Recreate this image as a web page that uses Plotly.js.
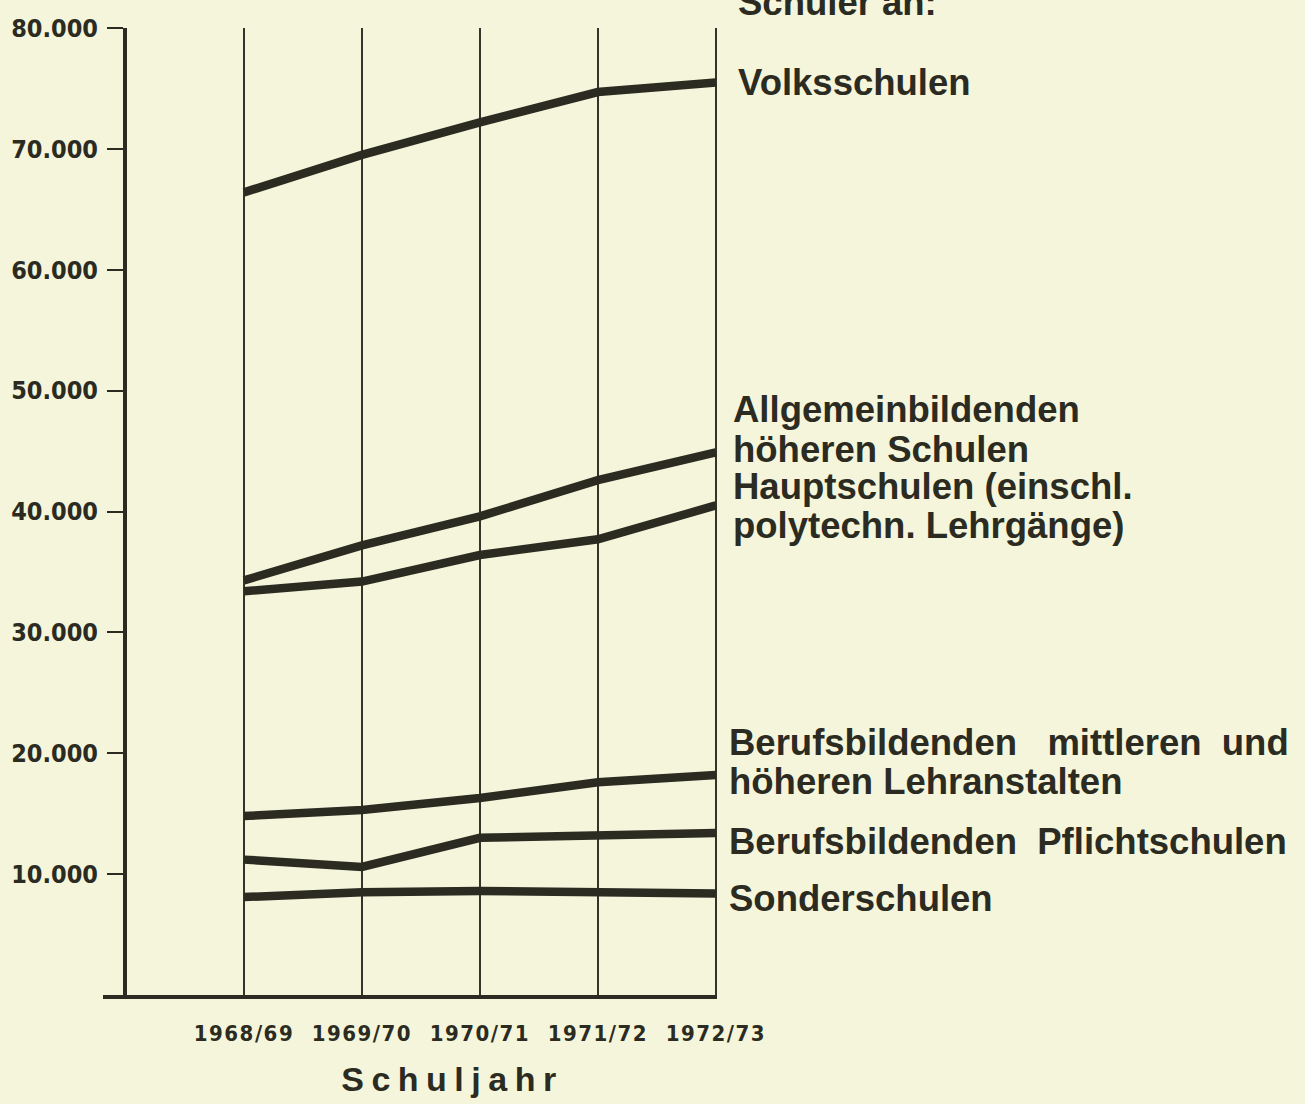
<!DOCTYPE html>
<html><head><meta charset="utf-8">
<script src="https://cdn.plot.ly/plotly-3.0.1.min.js"></script>
<style>
html,body{margin:0;padding:0;background:#f4f5da;}
#chart{width:1305px;height:1104px;}
.xtick text{letter-spacing:1.5px;}
.annotation[data-index="10"] .annotation-text{letter-spacing:7.5px;}
</style></head><body><div id="chart"></div>
<script>
// ---- data ----
const schoolYears = ["1968/69", "1969/70", "1970/71", "1971/72", "1972/73"];
const volksschulen = [66400, 69500, 72200, 74700, 75500];
const ahs = [34300, 37200, 39600, 42600, 44900];
const hauptschulen = [33400, 34200, 36400, 37700, 40500];
const bmhs = [14800, 15300, 16300, 17600, 18200];
const pflichtschulen = [11200, 10600, 13000, 13200, 13400];
const sonderschulen = [8100, 8500, 8600, 8500, 8400];
const yTickVals = [10000, 20000, 30000, 40000, 50000, 60000, 70000, 80000];
const yTickText = ["10.000", "20.000", "30.000", "40.000", "50.000", "60.000", "70.000", "80.000"];
const headerText = "Schüler an:";
const labelVolks = ["Volksschulen"];
const labelAhs = ["Allgemeinbildenden", "höheren Schulen"];
const labelHaupt = ["Hauptschulen (einschl.", "polytechn. Lehrgänge)"];
const labelBmhs = ["Berufsbildenden\u00a0\u00a0\u00a0mittleren\u00a0\u00a0und", "höheren Lehranstalten"];
const labelPflicht = ["Berufsbildenden\u00a0\u00a0Pflichtschulen"];
const labelSonder = ["Sonderschulen"];
const xTitle = "Schuljahr";

// ---- layout geometry (pixels) ----
const W = 1305, H = 1104;
const L = 103, R = 717.2, T = 27.7, B = 995;
const px = x => (x - L) / (R - L);
const py = y => (B - y) / (B - T);

const ink = '#2b2b22';
const lineStyle = {color: ink, width: 8.5};
const series = [volksschulen, ahs, hauptschulen, bmhs, pflichtschulen, sonderschulen];
const traces = series.map(v => ({
  x: schoolYears, y: v, type: 'scatter', mode: 'lines',
  line: lineStyle, hoverinfo: 'skip', showlegend: false, cliponaxis: false
}));

const labelFont = {family: 'Liberation Sans, Arial, sans-serif', size: 36.5, color: ink, weight: 'bold'};
function lab(text, xPix, yPix) {
  return {text: '<b>' + text + '</b>', xref: 'paper', yref: 'paper', x: px(xPix), y: py(yPix),
          xanchor: 'left', yanchor: 'middle', showarrow: false, font: labelFont};
}
const annotations = [
  lab(headerText, 736, 2.5),
  lab(labelVolks[0], 736, 82),
  lab(labelAhs[0], 731, 409),
  lab(labelAhs[1], 731, 449),
  lab(labelHaupt[0], 731, 486.5),
  lab(labelHaupt[1], 731, 525),
  lab(labelBmhs[0], 727, 742.5),
  lab(labelBmhs[1], 727, 781.5),
  lab(labelPflicht[0], 727, 841.5),
  lab(labelSonder[0], 727, 898),
  {text: '<b>' + xTitle + '</b>', xref: 'paper', yref: 'paper', x: px(453), y: py(1079),
   xanchor: 'center', yanchor: 'middle', showarrow: false,
   font: {family: 'Liberation Sans, Arial, sans-serif', size: 34, color: ink, weight: 'bold'}}
];

const yPos = px(125);
const condensed = 'DejaVu Sans Condensed, DejaVu Sans, sans-serif';
const layout = {
  width: W, height: H,
  margin: {l: L, r: W - R, t: T, b: H - B, pad: 0},
  paper_bgcolor: '#f4f5da', plot_bgcolor: '#f4f5da',
  showlegend: false,
  xaxis: {
    type: 'category', range: [-1.195, 4.01],
    showgrid: true, gridcolor: '#34342b', gridwidth: 2,
    showline: true, linecolor: ink, linewidth: 4,
    zeroline: false, ticks: '', ticklabelstandoff: 16,
    tickfont: {family: condensed, size: 22, color: ink, weight: 'bold'},
    automargin: false, fixedrange: true
  },
  yaxis: {
    range: [0, 80000], anchor: 'free', position: yPos,
    showgrid: false, zeroline: false,
    showline: true, linecolor: ink, linewidth: 4,
    tickvals: yTickVals, ticktext: yTickText,
    ticks: 'outside', ticklen: 16, tickwidth: 2, tickcolor: ink,
    ticklabelstandoff: 4,
    tickfont: {family: condensed, size: 25, color: ink, weight: 'bold'},
    automargin: false, fixedrange: true
  },
  yaxis2: {
    range: [0, 80000], overlaying: 'y', anchor: 'free', position: yPos,
    showgrid: false, zeroline: false, showline: false,
    tickvals: yTickVals, showticklabels: false,
    ticks: 'inside', ticklen: 17, tickwidth: 2, tickcolor: ink,
    automargin: false, fixedrange: true
  },
  annotations: annotations
};

Plotly.newPlot('chart', traces, layout, {staticPlot: true, displayModeBar: false});
</script>
</body></html>
